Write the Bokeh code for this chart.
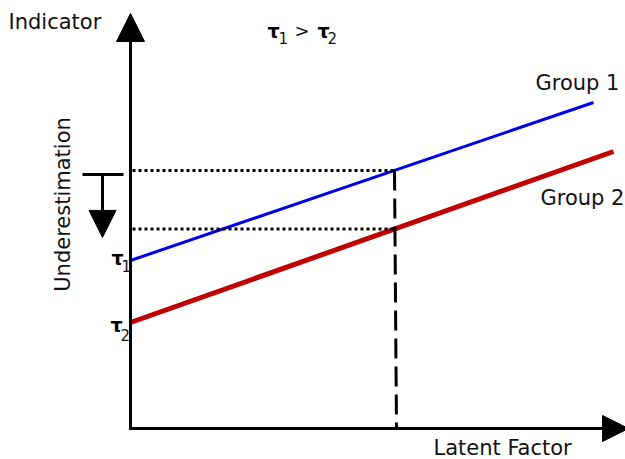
import numpy as np
from bokeh.plotting import figure
from bokeh.models import Range1d, Arrow, NormalHead
from bokeh.core.properties import value
from bokeh.embed import file_html
from bokeh.resources import INLINE

# Indicator as a function of the latent factor for the two groups (line endpoints)
group_names = ["Group 1", "Group 2"]
group1_x = [0, 463]
group1_y = [168, 326]
group2_x = [0, 483]
group2_y = [106, 277]
tau_subscripts = ["1", "2"]
# latent factor value at which both groups are compared
latent_point = 264

x_axis_label = "Latent Factor"
y_axis_label = "Indicator"
side_label = "Underestimation"
relation_text = ">"

FONT = value("DejaVu Sans")
INK = "#000000"
TEXT = "#111111"

p = figure(width=625, height=459,
           x_range=Range1d(-130, 495), y_range=Range1d(-31, 428),
           x_axis_type=None, y_axis_type=None,
           output_backend="svg", toolbar_location=None, min_border=0)
p.grid.visible = False
p.outline_line_color = None
p.background_fill_color = "white"
p.border_fill_color = "white"

# group lines
p.line(group1_x, group1_y, line_color="#0000e8", line_width=3)
p.line(group2_x, group2_y, line_color="#c00000", line_width=5)

# indicator values of both groups at the compared latent point
y_g1 = float(np.interp(latent_point, group1_x, group1_y))
y_g2 = float(np.interp(latent_point, group2_x, group2_y))

# dotted read-offs to the indicator axis
p.segment(x0=[2, 2], y0=[y_g1, y_g2], x1=[latent_point, latent_point], y1=[y_g1, y_g2],
          line_color=INK, line_width=3, line_dash="3 3")
# dashed drop to the latent factor axis
p.segment(x0=[latent_point], y0=[y_g1], x1=[latent_point + 2], y1=[0],
          line_color=INK, line_width=3, line_dash="20 8")

# axes drawn as arrows
p.add_layout(Arrow(end=NormalHead(size=28, fill_color=INK, line_color=INK, line_width=1),
                   x_start=0, y_start=-1.5, x_end=0, y_end=415,
                   line_color=INK, line_width=3))
p.add_layout(Arrow(end=NormalHead(size=26, fill_color=INK, line_color=INK, line_width=1),
                   x_start=-1.5, y_start=0, x_end=498, y_end=0,
                   line_color=INK, line_width=3))

# underestimation marker: bar plus downward arrow
bar_y = y_g1 - 4
p.segment(x0=[-48], y0=[bar_y], x1=[-7], y1=[bar_y], line_color=INK, line_width=3)
p.add_layout(Arrow(end=NormalHead(size=27, fill_color=INK, line_color=INK, line_width=1),
                   x_start=-28, y_start=bar_y, x_end=-28, y_end=bar_y - 63,
                   line_color=INK, line_width=3))

# axis titles and group labels
p.text(x=[-122, 303, 405, 410], y=[407, -19, 346, 231],
       text=[y_axis_label, x_axis_label, group_names[0], group_names[1]],
       text_font=FONT, text_font_size="21px", text_color=TEXT,
       text_align="left", text_baseline="alphabetic")
p.text(x=[-68], y=[224], text=[side_label], angle=np.pi / 2,
       text_font=FONT, text_font_size="21px", text_color=TEXT,
       text_align="center", text_baseline="alphabetic")

# tau labels at the intercepts
intercepts = [group1_y[0], group2_y[0]]
p.text(x=[-19, -20], y=[intercepts[0] + 3, intercepts[1] - 2], text=["τ", "τ"],
       text_font=FONT, text_font_size="19px", text_font_style="bold", text_color=INK,
       text_align="left", text_baseline="alphabetic")
p.text(x=[-9, -10], y=[intercepts[0] - 5, intercepts[1] - 12], text=tau_subscripts,
       text_font=FONT, text_font_size="15px", text_color=TEXT,
       text_align="left", text_baseline="alphabetic")

# relation between the intercepts at the top
p.text(x=[137, 187], y=[398, 398], text=["τ", "τ"],
       text_font=FONT, text_font_size="19px", text_font_style="bold", text_color=INK,
       text_align="left", text_baseline="alphabetic")
p.text(x=[148, 197], y=[391, 391], text=tau_subscripts,
       text_font=FONT, text_font_size="15px", text_color=TEXT,
       text_align="left", text_baseline="alphabetic")
p.text(x=[164], y=[398], text=[relation_text],
       text_font=FONT, text_font_size="18px", text_color=TEXT,
       text_align="left", text_baseline="alphabetic")

open("out.html", "w").write(file_html(p, INLINE))
